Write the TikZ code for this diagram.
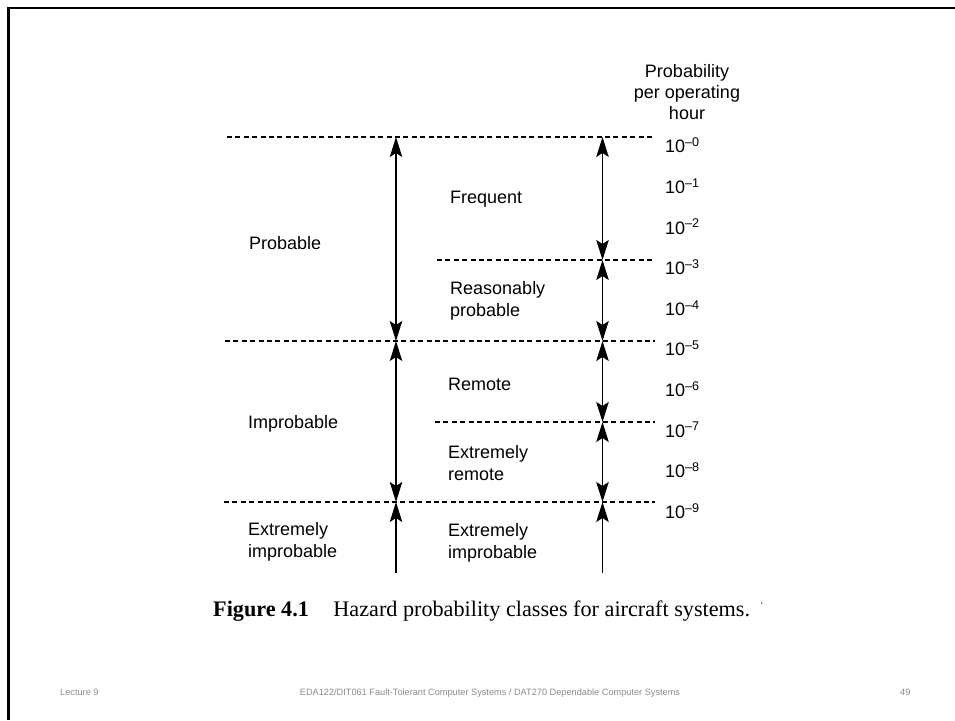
\documentclass[tikz,border=0pt]{standalone}
\usepackage{fontspec}
\setmainfont{Liberation Sans}
\newfontfamily\capfont{Liberation Serif}
\usetikzlibrary{arrows.meta}

\definecolor{footgray}{RGB}{140,140,140}

\tikzset{
  levelline/.style={line width=1.15pt, dash pattern=on 5pt off 3.4pt},
  headtip/.tip={Stealth[length=20pt,width=12.5pt,inset=4pt]},
  span/.style={line width=1.3pt, headtip-headtip},
  spanup/.style={line width=1.3pt, headtip-},
  cls/.style={font=\fontsize{18}{22}\selectfont, align=left, anchor=west, inner sep=0pt},
  pw/.style={font=\fontsize{18}{22}\selectfont, anchor=west, inner sep=0pt},
  foot/.style={font=\fontsize{9.2}{11}\selectfont, text=footgray, inner sep=0pt}
}

\begin{document}
\begin{tikzpicture}[x=1pt,y=-1pt]
\useasboundingbox (0,0) rectangle (955,720);
\fill[white] (0,0) rectangle (955,720);

% slide frame (left and top edges)
\draw[line width=2.6pt] (8.3,720) -- (8.3,8) -- (955,8);

% dashed level lines with their arrow anchor points
\foreach \n/\y/\xs in {0/137/227, 3/260/437, 5/341/225, 7/422/435, 9/502/224} {
  \coordinate (s\n) at (\xs,\y);
  \coordinate (e\n) at (655,\y);
  \coordinate (l\n) at (396,\y);
  \coordinate (r\n) at (602.5,\y);
  \draw[levelline] (s\n) -- (e\n);
}
\coordinate (lend) at (396,573);
\coordinate (rend) at (602.5,573);

% left column: broad classes
\draw[span] (l0) -- (l5);
\draw[span] (l5) -- (l9);
\draw[spanup] (l9) -- (lend);

% right column: fine classes
\draw[span] (r0) -- (r3);
\draw[span] (r3) -- (r5);
\draw[span] (r5) -- (r7);
\draw[span] (r7) -- (r9);
\draw[spanup] (r9) -- (rend);

% probability scale
\node[font=\fontsize{18}{21}\selectfont, align=center, inner sep=0pt] (head) at (687,92)
  {Probability\\per operating\\hour};
\foreach \k in {0,...,9}
  \node[pw] (p\k) at (665,{145.5+40.6*\k}) {10\textsuperscript{–\k}};

% class labels
\node[cls] (probable) at (249,243) {Probable};
\node[cls] (improbable) at (248,424) {Improbable};
\node[cls] (extimpl) at (248,542) {Extremely\\improbable};
\node[cls] (frequent) at (450,199) {Frequent};
\node[cls] (reasonably) at (450,301) {Reasonably\\probable};
\node[cls] (remote) at (448,384) {Remote};
\node[cls] (extremote) at (448,463) {Extremely\\remote};
\node[cls] (extimpr) at (448,543) {Extremely\\improbable};

% caption
\node[font=\capfont\fontsize{22.2}{25}\selectfont, anchor=base west, inner sep=0pt] (caption) at (213,616)
  {{\bfseries Figure 4.1}\hspace{1.1em}Hazard probability classes for aircraft systems.\hspace{0.5em}{\fontsize{9}{9}\selectfont\raisebox{0.8em}{'}}};

% footer
\node[foot, anchor=base west] (lecture) at (60,695) {Lecture 9};
\node[foot, anchor=base] (course) at (490,695) {EDA122/DIT061 Fault-Tolerant Computer Systems / DAT270 Dependable Computer Systems};
\node[foot, anchor=base west] (pageno) at (900,695) {49};
\end{tikzpicture}
\end{document}
